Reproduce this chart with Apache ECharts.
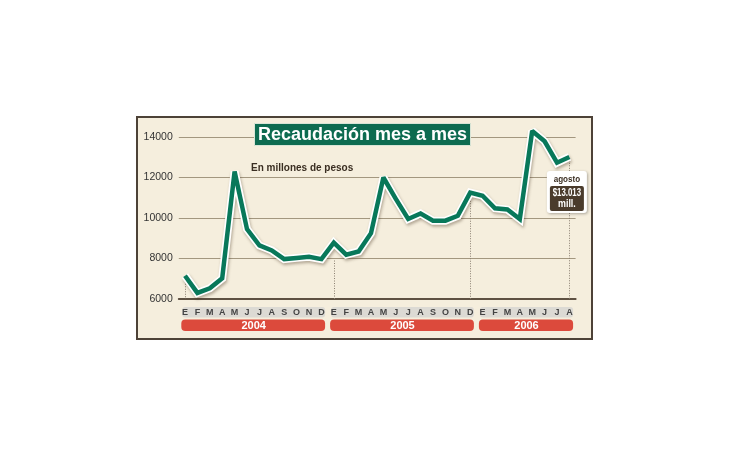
<!DOCTYPE html>
<html>
<head>
<meta charset="utf-8">
<script src="https://cdn.jsdelivr.net/npm/echarts@6/dist/echarts.min.js"></script>
<style>
html,body{margin:0;padding:0;background:#fff;}
#chart{width:730px;height:460px;}
</style>
</head>
<body>
<div id="chart"></div>
<script>
// ---- data ----
var monthLetters = ['E','F','M','A','M','J','J','A','S','O','N','D'];
var years = ['2004','2005','2006'];
var yearStart = [0, 12, 24];
var yearEnd = [11, 23, 31];
var values2004 = [7150, 6300, 6530, 7020, 12300, 9450, 8650, 8400, 7970, 8030, 8080, 7970];
var values2005 = [8780, 8190, 8350, 9250, 12000, 10950, 9950, 10220, 9870, 9870, 10110, 11250];
var values2006 = [11100, 10480, 10420, 9950, 14300, 13790, 12730, 13013];
var yTicks = [6000, 8000, 10000, 12000, 14000];
var dividerIdx = [0, 11.55, 23.2, 31];
var dividerTop = [7000, 7900, 11100, 12850];

var categories = [];
years.forEach(function (y, i) {
  for (var m = 0; m <= yearEnd[i] - yearStart[i]; m++) categories.push(y + '-' + monthLetters[m]);
});
var values = values2004.concat(values2005, values2006);
var lastIdx = values.length - 1;
var lastVal = values[lastIdx];

var chart = echarts.init(document.getElementById('chart'), null, {renderer: 'canvas'});
var FONT = 'Liberation Sans, Arial, sans-serif';

function narrowText(str, x, y, size, fill, sx) {
  return {type: 'text', x: x, y: y, scaleX: sx, originX: 0, originY: 0,
    style: {text: str, x: 0, y: 0, align: 'center', verticalAlign: 'middle', fill: fill, font: 'bold ' + size + 'px ' + FONT}};
}

var option = {
  animation: false,
  backgroundColor: '#ffffff',
  textStyle: {fontFamily: FONT},
  graphic: [{
    type: 'rect', z: -100,
    shape: {x: 137, y: 117, width: 455, height: 222},
    style: {fill: '#f5eedd', stroke: '#4d4237', lineWidth: 2}
  }],
  title: [{
    text: 'Recaudación mes a mes',
    left: 254, top: 123,
    padding: [3, 4, 2, 4],
    backgroundColor: '#0d6b50',
    borderColor: '#d8e4d6', borderWidth: 1,
    textStyle: {color: '#ffffff', fontSize: 18, fontWeight: 'bold', fontFamily: FONT}
  }, {
    text: 'En millones de pesos',
    left: 251, top: 163, padding: 0,
    textStyle: {color: '#3a2e22', fontSize: 10, fontWeight: 'bold', fontFamily: FONT}
  }],
  grid: {left: 178.8, right: 154.4, top: 137, bottom: 161},
  xAxis: {
    type: 'category',
    data: categories,
    boundaryGap: true,
    axisLine: {show: true, lineStyle: {color: '#5e5142', width: 2}},
    axisTick: {show: false},
    axisLabel: {
      interval: 0, margin: 9,
      fontSize: 9, fontWeight: 'bold', color: '#444',
      formatter: function (v) { return v.split('-')[1]; }
    },
    splitLine: {show: false}
  },
  yAxis: {
    type: 'value', min: yTicks[0], max: yTicks[yTicks.length - 1], interval: 2000,
    axisLine: {show: false}, axisTick: {show: false},
    axisLabel: {margin: 6, fontSize: 10.5, color: '#333', formatter: function (v) { return String(v); }},
    splitLine: {show: true, lineStyle: {color: '#a3977f', width: 1}}
  },
  series: [{
    type: 'custom', z: -1, silent: true,
    data: years.map(function (y, i) { return [yearStart[i], yearEnd[i]]; }),
    encode: {x: [0, 1]},
    renderItem: function (params, api) {
      var s = api.value(0), e = api.value(1);
      var bw = api.size([1, 0])[0];
      var p0 = api.coord([s, 6000]);
      var p1 = api.coord([e, 6000]);
      var x0 = p0[0] - bw / 2 + 3.5;
      var x1 = p1[0] + bw / 2 - 2.5;
      var yb = p0[1];
      return {type: 'group', children: [
        {type: 'rect', shape: {x: x0, y: yb + 8, width: x1 - x0, height: 10.5, r: 3}, style: {fill: '#dcdad4'}},
        {type: 'rect', shape: {x: x0 - 1, y: yb + 20.5, width: x1 - x0 + 1, height: 11.5, r: 4}, style: {fill: '#dc4a3c'}},
        {type: 'text', style: {text: years[params.dataIndex], x: (x0 + x1) / 2, y: yb + 26.5, align: 'center', verticalAlign: 'middle', fill: '#ffffff', font: 'bold 11px ' + FONT}}
      ]};
    }
  }, {
    type: 'custom', z: 1, silent: true,
    data: dividerIdx.map(function (d, i) { return [d, dividerTop[i]]; }),
    renderItem: function (params, api) {
      var a = api.coord([api.value(0), api.value(1)]);
      var b = api.coord([api.value(0), 6000]);
      return {type: 'line', shape: {x1: Math.round(a[0]) + 0.5, y1: a[1], x2: Math.round(b[0]) + 0.5, y2: b[1]},
        style: {stroke: '#8a7f70', lineWidth: 1, lineDash: [1, 1.5]}};
    }
  }, {
    type: 'line', data: values, z: 3, clip: false,
    symbol: 'none', silent: true,
    lineStyle: {color: '#ffffff', width: 8, shadowColor: 'rgba(60,40,20,0.35)', shadowBlur: 3, shadowOffsetX: 1, shadowOffsetY: 2, join: 'miter', miterLimit: 2}
  }, {
    type: 'line', data: values, z: 4, clip: false,
    symbol: 'none', silent: true,
    lineStyle: {color: '#08785a', width: 4.5, join: 'miter', miterLimit: 2}
  }, {
    type: 'custom', z: 5, silent: true,
    data: [[lastIdx, lastVal]],
    renderItem: function (params, api) {
      var p = api.coord([api.value(0), api.value(1)]);
      var cx = p[0] - 2.5, top = p[1] + 14;
      var txt = '$' + (api.value(1) / 1000).toFixed(3);
      return {type: 'group', children: [
        {type: 'rect', shape: {x: cx - 20, y: top, width: 40, height: 42, r: 3},
          style: {fill: '#ffffff', shadowColor: 'rgba(0,0,0,0.3)', shadowBlur: 3, shadowOffsetX: 1, shadowOffsetY: 1}},
        narrowText('agosto', cx, top + 8.5, 9.5, '#3a2e22', 0.85),
        {type: 'rect', shape: {x: cx - 17, y: top + 15, width: 34, height: 25, r: 2}, style: {fill: '#4a3b2c'}},
        narrowText(txt, cx, top + 22, 10.5, '#ffffff', 0.75),
        narrowText('mill.', cx, top + 33, 10.5, '#ffffff', 0.85)
      ]};
    }
  }]
};
chart.setOption(option);
</script>
</body>
</html>
